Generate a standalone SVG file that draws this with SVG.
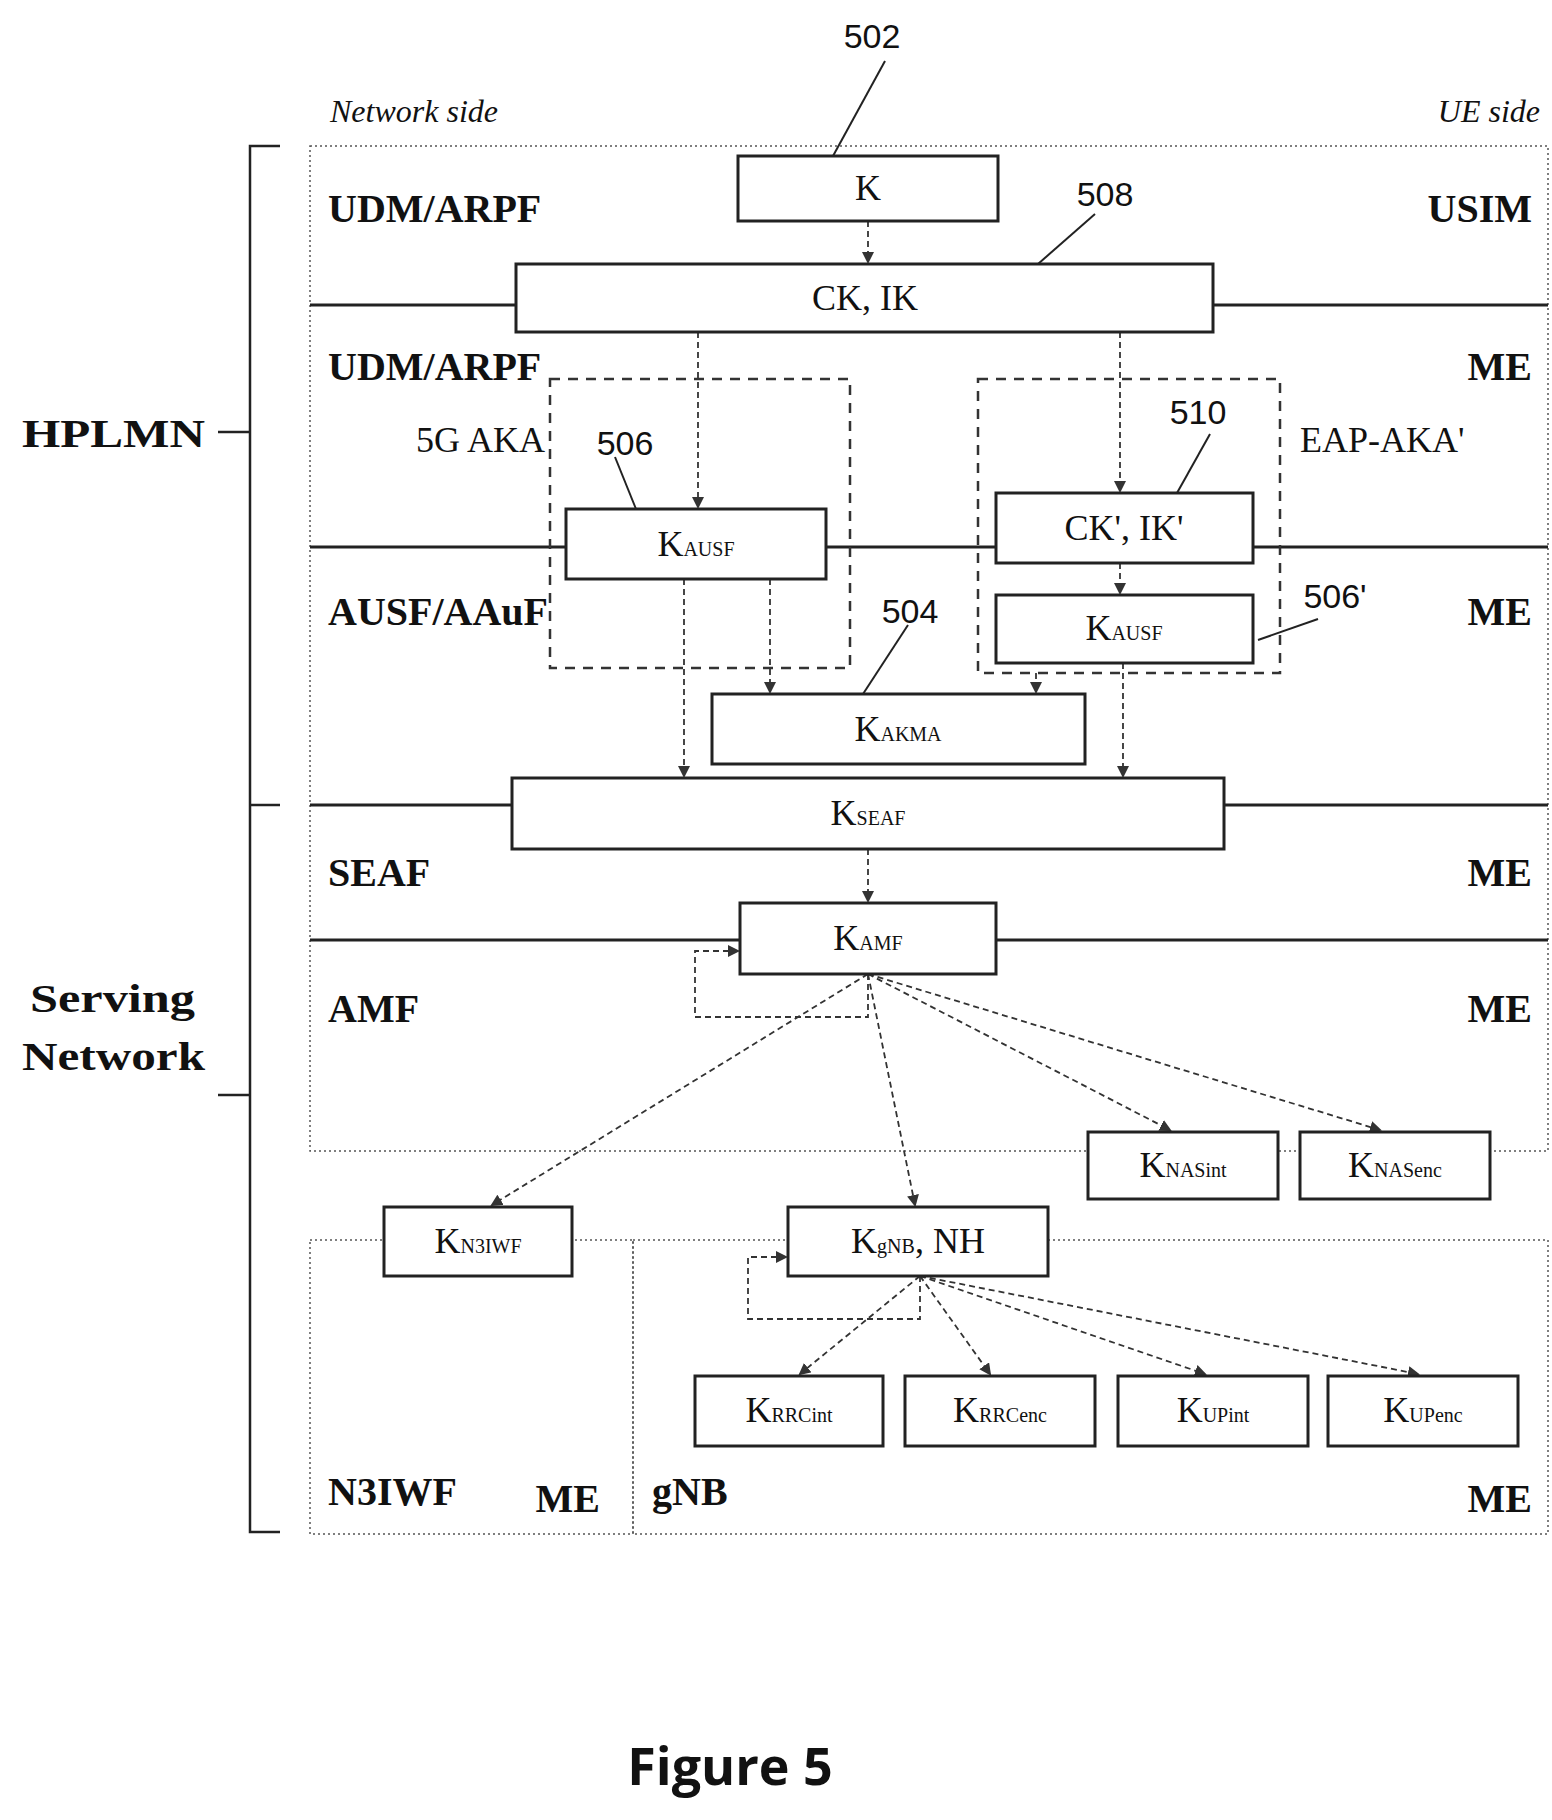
<svg xmlns="http://www.w3.org/2000/svg" width="1552" height="1820" viewBox="0 0 1552 1820">
<defs>
<marker id="ah" markerWidth="12" markerHeight="12" refX="10" refY="6" orient="auto" markerUnits="userSpaceOnUse"><path d="M0,0 L12,6 L0,12 Z" fill="#333"/></marker>
<style>
.area{fill:none;stroke:#555;stroke-width:1.5;stroke-dasharray:2,3}
.sep{stroke:#222;stroke-width:3}
.box{fill:#fff;stroke:#222;stroke-width:3}
.grp{fill:none;stroke:#333;stroke-width:2.5;stroke-dasharray:10,8}
.c{fill:none;stroke:#333;stroke-width:1.8;stroke-dasharray:6,4}
.lead{stroke:#222;stroke-width:2}
.lbl{font-family:"Liberation Serif",serif;font-weight:bold;font-size:40px;fill:#111}
.t{font-family:"Liberation Serif",serif;font-size:36px;fill:#111;text-anchor:middle}
.sub{font-size:20px}
.num{font-family:"Liberation Sans",sans-serif;font-size:34px;fill:#111;text-anchor:middle}
.it{font-family:"Liberation Serif",serif;font-style:italic;font-size:32px;fill:#111}
.br{fill:none;stroke:#222;stroke-width:2.5}
</style>
</defs>
<rect width="1552" height="1820" fill="#fff"/>
<g id="areas">
<rect class="area" x="310" y="146" width="1238" height="1005"/>
<rect class="area" x="310" y="1240" width="323" height="294"/>
<rect class="area" x="633" y="1240" width="915" height="294"/>
<line class="sep" x1="310" y1="305" x2="1548" y2="305"/>
<line class="sep" x1="310" y1="547" x2="1548" y2="547"/>
<line class="sep" x1="310" y1="805" x2="1548" y2="805"/>
<line class="sep" x1="310" y1="940" x2="1548" y2="940"/>
</g>
<g id="brackets">
<path class="br" d="M280,146 H250 V1532 H280"/>
<line class="br" x1="218" y1="432" x2="250" y2="432"/>
<line class="br" x1="250" y1="805" x2="280" y2="805"/>
<line class="br" x1="218" y1="1095" x2="250" y2="1095"/>
<text class="lbl" x="22" y="447" font-size="44" textLength="183" lengthAdjust="spacingAndGlyphs">HPLMN</text>
<text class="lbl" x="30" y="1012" font-size="44" textLength="165" lengthAdjust="spacingAndGlyphs">Serving</text>
<text class="lbl" x="22" y="1070" font-size="44" textLength="183" lengthAdjust="spacingAndGlyphs">Network</text>
</g>
<g id="labels">
<text class="it" x="330" y="122">Network side</text>
<text class="it" x="1540" y="122" text-anchor="end">UE side</text>
<text class="lbl" x="328" y="222">UDM/ARPF</text>
<text class="lbl" x="1532" y="222" text-anchor="end">USIM</text>
<text class="lbl" x="328" y="380">UDM/ARPF</text>
<text class="lbl" x="1532" y="380" text-anchor="end">ME</text>
<text class="lbl" x="328" y="625">AUSF/AAuF</text>
<text class="lbl" x="1532" y="625" text-anchor="end">ME</text>
<text class="lbl" x="328" y="886">SEAF</text>
<text class="lbl" x="1532" y="886" text-anchor="end">ME</text>
<text class="lbl" x="328" y="1022">AMF</text>
<text class="lbl" x="1532" y="1022" text-anchor="end">ME</text>
<text class="lbl" x="328" y="1505">N3IWF</text>
<text class="lbl" x="600" y="1512" text-anchor="end">ME</text>
<text class="lbl" x="652" y="1505">gNB</text>
<text class="lbl" x="1532" y="1512" text-anchor="end">ME</text>
<text class="t" x="545" y="452" style="text-anchor:end">5G AKA</text>
<text class="t" x="1300" y="452" style="text-anchor:start">EAP-AKA'</text>
<text x="730" y="1785" font-family="'Open Sans',sans-serif" font-weight="bold" font-size="52" text-anchor="middle" fill="#111">Figure 5</text>
</g>
<g id="groups">
<rect class="grp" x="550" y="379" width="300" height="289"/>
<rect class="grp" x="978" y="379" width="302" height="294"/>
</g>
<g id="connectors">
<line class="c" x1="868" y1="221" x2="868" y2="262" marker-end="url(#ah)"/>
<line class="c" x1="698" y1="332" x2="698" y2="507" marker-end="url(#ah)"/>
<line class="c" x1="1120" y1="332" x2="1120" y2="491" marker-end="url(#ah)"/>
<line class="c" x1="1120" y1="563" x2="1120" y2="593" marker-end="url(#ah)"/>
<line class="c" x1="684" y1="579" x2="684" y2="776" marker-end="url(#ah)"/>
<line class="c" x1="770" y1="579" x2="770" y2="692" marker-end="url(#ah)"/>
<line class="c" x1="1036" y1="673" x2="1036" y2="692" marker-end="url(#ah)"/>
<line class="c" x1="1123" y1="663" x2="1123" y2="776" marker-end="url(#ah)"/>
<line class="c" x1="868" y1="849" x2="868" y2="901" marker-end="url(#ah)"/>
<path class="c" d="M868,974 V1017 H695 V951 H738" marker-end="url(#ah)"/>
<line class="c" x1="868" y1="974" x2="492" y2="1205" marker-end="url(#ah)"/>
<line class="c" x1="868" y1="974" x2="915" y2="1205" marker-end="url(#ah)"/>
<line class="c" x1="868" y1="974" x2="1170" y2="1130" marker-end="url(#ah)"/>
<line class="c" x1="868" y1="974" x2="1380" y2="1130" marker-end="url(#ah)"/>
<path class="c" d="M920,1276 V1319 H748 V1257 H786" marker-end="url(#ah)"/>
<line class="c" x1="920" y1="1276" x2="800" y2="1374" marker-end="url(#ah)"/>
<line class="c" x1="920" y1="1276" x2="990" y2="1374" marker-end="url(#ah)"/>
<line class="c" x1="920" y1="1276" x2="1205" y2="1374" marker-end="url(#ah)"/>
<line class="c" x1="920" y1="1276" x2="1418" y2="1374" marker-end="url(#ah)"/>
<line class="lead" x1="885" y1="61" x2="833" y2="156"/>
<line class="lead" x1="1095" y1="214" x2="1038" y2="264" stroke-width="1"/>
<line class="lead" x1="615" y1="457" x2="636" y2="509"/>
<line class="lead" x1="1210" y1="434" x2="1177" y2="493" stroke-width="1"/>
<line class="lead" x1="1318" y1="619" x2="1258" y2="640" stroke-width="1"/>
<line class="lead" x1="908" y1="625" x2="863" y2="694"/>
<text class="num" x="872" y="48">502</text>
<text class="num" x="1105" y="206">508</text>
<text class="num" x="625" y="455">506</text>
<text class="num" x="1198" y="424">510</text>
<text class="num" x="1335" y="608">506'</text>
<text class="num" x="910" y="623">504</text>
</g>
<g id="n-K"><rect class="box" x="738" y="156" width="260" height="65"/><text class="t" x="868" y="200">K</text></g>
<g id="n-CKIK"><rect class="box" x="516" y="264" width="697" height="68"/><text class="t" x="865" y="310">CK, IK</text></g>
<g id="n-KAUSF"><rect class="box" x="566" y="509" width="260" height="70"/><text class="t" x="696" y="556">K<tspan class="sub">AUSF</tspan></text></g>
<g id="n-CKIK2"><rect class="box" x="996" y="493" width="257" height="70"/><text class="t" x="1124" y="540">CK', IK'</text></g>
<g id="n-KAUSF2"><rect class="box" x="996" y="595" width="257" height="68"/><text class="t" x="1124" y="640">K<tspan class="sub">AUSF</tspan></text></g>
<g id="n-KAKMA"><rect class="box" x="712" y="694" width="373" height="70"/><text class="t" x="898" y="741">K<tspan class="sub">AKMA</tspan></text></g>
<g id="n-KSEAF"><rect class="box" x="512" y="778" width="712" height="71"/><text class="t" x="868" y="825">K<tspan class="sub">SEAF</tspan></text></g>
<g id="n-KAMF"><rect class="box" x="740" y="903" width="256" height="71"/><text class="t" x="868" y="950">K<tspan class="sub">AMF</tspan></text></g>
<g id="n-KNASint"><rect class="box" x="1088" y="1132" width="190" height="67"/><text class="t" x="1183" y="1177">K<tspan class="sub">NASint</tspan></text></g>
<g id="n-KNASenc"><rect class="box" x="1300" y="1132" width="190" height="67"/><text class="t" x="1395" y="1177">K<tspan class="sub">NASenc</tspan></text></g>
<g id="n-KN3IWF"><rect class="box" x="384" y="1207" width="188" height="69"/><text class="t" x="478" y="1253">K<tspan class="sub">N3IWF</tspan></text></g>
<g id="n-KgNB"><rect class="box" x="788" y="1207" width="260" height="69"/><text class="t" x="918" y="1253">K<tspan class="sub">gNB</tspan>, NH</text></g>
<g id="n-KRRCint"><rect class="box" x="695" y="1376" width="188" height="70"/><text class="t" x="789" y="1422">K<tspan class="sub">RRCint</tspan></text></g>
<g id="n-KRRCenc"><rect class="box" x="905" y="1376" width="190" height="70"/><text class="t" x="1000" y="1422">K<tspan class="sub">RRCenc</tspan></text></g>
<g id="n-KUPint"><rect class="box" x="1118" y="1376" width="190" height="70"/><text class="t" x="1213" y="1422">K<tspan class="sub">UPint</tspan></text></g>
<g id="n-KUPenc"><rect class="box" x="1328" y="1376" width="190" height="70"/><text class="t" x="1423" y="1422">K<tspan class="sub">UPenc</tspan></text></g>
</svg>
